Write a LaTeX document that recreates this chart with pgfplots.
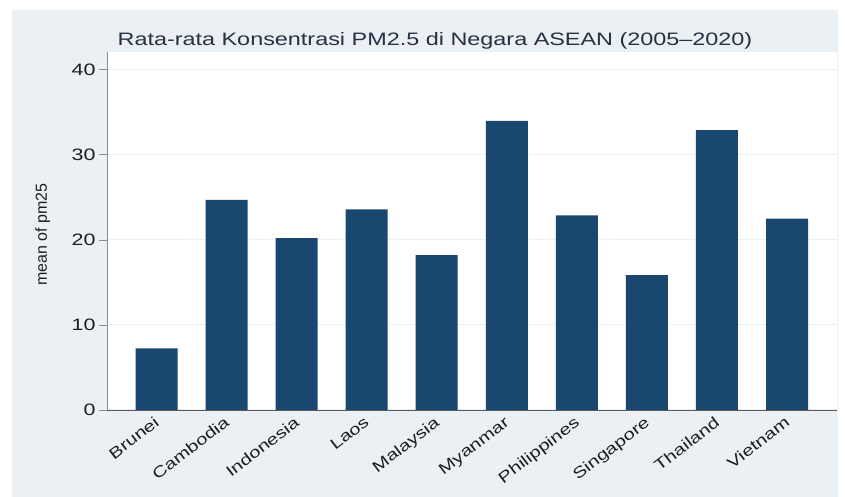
\documentclass[border=0pt]{standalone}
\usepackage{pgfplots}
\pgfplotsset{compat=1.18}
\usepackage{fontspec}
\setmainfont{Liberation Sans}
\newfontfamily\widefont{Liberation Sans}[FakeStretch=1.3]
\definecolor{bgc}{RGB}{234,240,244}
\definecolor{barc}{RGB}{26,71,111}
\definecolor{txtc}{RGB}{30,30,30}
\definecolor{titc}{RGB}{40,48,66}
\definecolor{gridc}{RGB}{236,240,242}
\begin{document}
\begin{tikzpicture}[x=1bp,y=1bp]
\useasboundingbox (0,0) rectangle (845,497);
\fill[white] (0,0) rectangle (845,497);
\fill[bgc] (12,0) rectangle (838,487);
\node[anchor=base, text=titc, font=\widefont\fontsize{18bp}{21bp}\selectfont] at (435,451) {Rata-rata Konsentrasi PM2.5 di Negara ASEAN (2005–2020)};
\begin{axis}[
  at={(107bp,87bp)}, anchor=south west,
  scale only axis, width=730bp, height=358bp,
  xmin=-0.707, xmax=9.714, ymin=0, ymax=42.1,
  axis background/.style={fill=white},
  axis x line*=bottom, axis y line*=left,
  x axis line style={-, draw=black!65, line width=0.9bp},
  y axis line style={-, draw=black!45, line width=0.9bp},
  ybar, bar width=42bp,
  xtick={0,...,9},
  xticklabels={Brunei,Cambodia,Indonesia,Laos,Malaysia,Myanmar,Philippines,Singapore,Thailand,Vietnam},
  x tick style={draw=none},
  ytick={0,10,20,30,40},
  tick align=outside, major tick length=8bp,
  y tick style={draw=black!45, line width=0.8bp},
  ymajorgrids, major grid style={draw=gridc, line width=1bp},
  /pgf/number format/assume math mode=true,
  yticklabel style={text=txtc, font=\widefont\fontsize{16.5bp}{19bp}\selectfont},
  xticklabel style={anchor=north east, xshift=-3bp, yshift=4bp, rotate=37.6, text=txtc, font=\widefont\fontsize{15.5bp}{18bp}\selectfont, inner sep=1bp},
  every axis y label/.style={at={(axis description cs:-0.088,0.49)}, rotate=90, anchor=center},
  ylabel={mean of pm25},
  ylabel style={text=txtc, font=\fontsize{16bp}{18bp}\selectfont},
]
\addplot[fill=barc, draw=none] coordinates {
(0,7.26) (1,24.7) (2,20.2) (3,23.6) (4,18.2) (5,34.0) (6,22.9) (7,15.85) (8,32.9) (9,22.5)
};
\end{axis}
\end{tikzpicture}
\end{document}
